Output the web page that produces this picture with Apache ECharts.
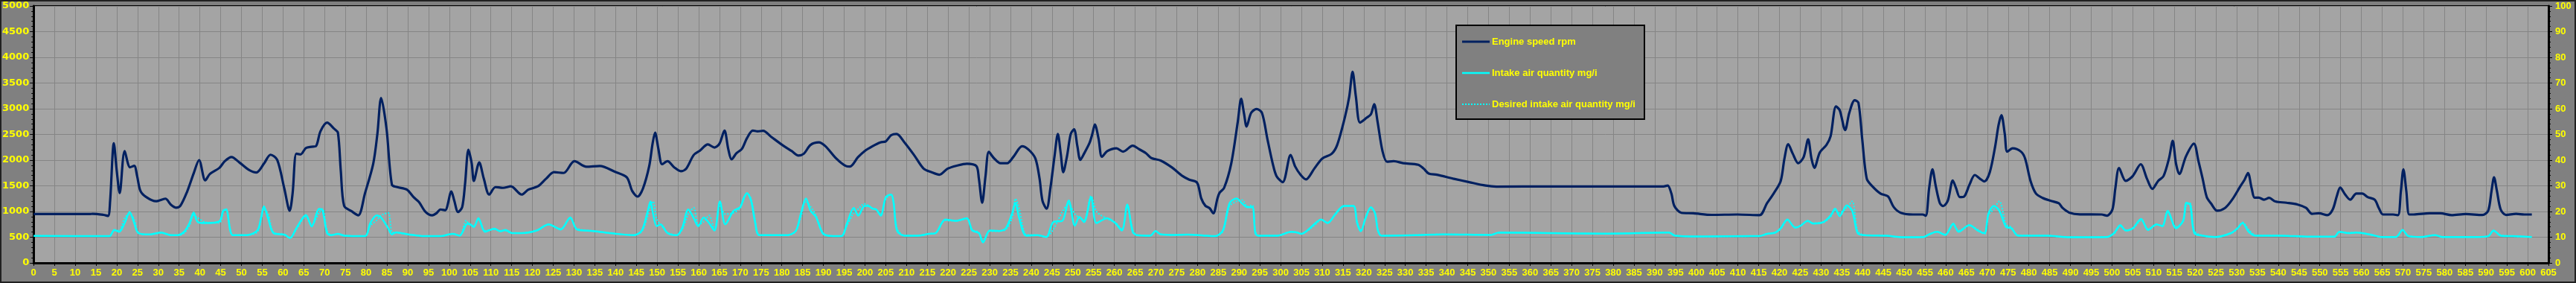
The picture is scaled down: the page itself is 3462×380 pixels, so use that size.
<!DOCTYPE html>
<html><head><meta charset="utf-8">
<script src="https://cdn.jsdelivr.net/npm/echarts@6/dist/echarts.min.js"></script>
<style>html,body{margin:0;padding:0;background:#808080;}#c{width:3462px;height:380px;}</style>
</head><body><div id="c"></div>
<script>
const seriesNames = ['Engine speed rpm', 'Intake air quantity mg/i', 'Desired intake air quantity mg/i'];

const speedT = [0,13.5,14.2,16.8,17.9,18.4,19.3,20.0,20.7,21.9,23.2,24.2,24.9,25.7,27.1,29.4,31.7,33.0,34.3,35.3,36.9,38.5,39.8,41.3,42.4,44.7,46.0,47.6,49.5,51.8,53.6,55.4,57.0,58.6,60.3,61.6,62.3,63.2,64.2,65.5,66.8,67.9,69.0,70.6,72.3,73.2,73.9,74.7,76.5,78.1,79.7,81.7,82.7,83.6,84.9,86.2,87.5,89.8,91.4,92.7,94.3,95.9,96.9,97.9,99.0,100.5,101.2,102.1,103.1,103.8,104.6,105.4,105.9,107.2,108.3,109.6,111.1,112.9,114.8,117.4,119.0,121.3,123.3,125.2,127.5,130.1,133.0,136.2,139.8,142.7,144.0,145.3,146.6,148.1,148.9,149.5,150.3,151.2,152.5,154.1,155.7,157.0,158.8,160.3,162.2,163.8,165.0,166.2,167.1,167.9,169.1,170.4,171.6,173.0,174.2,175.5,177.5,180.1,182.4,184.0,185.3,186.9,188.9,190.5,193.1,195.4,196.4,198.3,199.9,201.8,203.7,205.0,206.3,207.6,209.5,211.8,214.1,216.0,217.9,219.9,222.2,224.5,226.8,227.4,228.2,229.0,229.8,231.0,232.6,234.2,235.8,237.8,239.4,241.0,242.0,242.7,243.7,244.6,245.6,246.4,247.1,247.7,248.6,249.5,250.3,251.1,251.8,252.7,254.0,254.7,255.3,256.2,257.0,258.3,260.5,262.1,264.4,266.0,267.6,268.9,271.2,273.8,276.4,278.0,279.9,280.9,281.9,282.9,283.8,284.8,285.3,286.4,288.1,289.7,290.5,291.2,291.8,292.9,294.2,295.5,296.8,298.1,299.0,300.5,302.4,303.5,304.8,306.1,308.1,310.0,312.3,313.6,315.5,316.5,317.3,318.1,319.1,320.7,321.7,322.5,323.3,324.5,325.6,327.2,329.5,333.1,334.4,335.6,337.6,341.5,345.4,349.3,351.9,365,378,392.1,393.1,394.0,394.7,396.4,399.3,403.7,409.9,415.2,417.0,418.6,420.3,421.2,422.1,423.2,424.5,425.8,426.9,427.7,428.4,429.7,431.3,432.3,433.6,434.5,435.8,436.8,438.1,439.0,439.9,441.0,442.3,444.3,446.1,447.5,449.2,452.1,454.4,455.2,456.0,456.8,457.6,458.6,459.4,460.5,461.7,462.5,463.4,464.4,465.7,467.0,468.2,469.3,470.6,471.9,472.7,473.4,474.2,474.8,476.1,478.1,479.1,480.4,481.7,483.3,485.2,487.2,488.1,489.7,492.3,497.5,498.8,500.1,500.8,501.7,503.3,505.0,506.9,508.4,509.7,511.1,512.4,513.7,514.6,515.4,516.2,517.8,519.7,520.8,521.8,522.8,523.8,525.3,527.2,528.9,530.9,531.9,532.7,533.6,534.3,535.3,536.6,537.8,539.3,542.0,544.7,546.7,548.1,549.8,551.8,553.1,554.1,554.9,556.1,557.3,558.8,560.2,561.5,563.2,564.2,565.2,567.6,568.8,569.5,570.1,570.8,571.5,572.6,576.4,579.0,581.7,585.1,589.1,590.5,591.3,591.9,592.6,593.5,594.8,597.2,599.2,601.0];
const speedRpm = [950,950,955,935,915,1200,2330,1790,1360,2175,1860,1890,1690,1400,1280,1200,1250,1135,1075,1110,1380,1740,2000,1605,1730,1850,1980,2060,1955,1810,1760,1930,2105,2005,1450,1015,1350,2125,2110,2235,2260,2270,2560,2730,2610,2535,1790,1110,1005,925,1350,1930,2510,3210,2610,1520,1475,1425,1280,1185,990,925,965,1040,1025,1390,1210,990,1085,1545,2200,1930,1595,1955,1640,1330,1475,1460,1490,1330,1425,1490,1640,1765,1750,1980,1870,1885,1775,1665,1400,1290,1450,1885,2320,2535,2220,1920,1980,1860,1785,1835,2100,2185,2305,2245,2320,2575,2220,2015,2135,2220,2425,2575,2560,2570,2450,2295,2175,2090,2125,2295,2345,2270,2030,1885,1875,2055,2175,2270,2345,2365,2485,2510,2345,2100,1835,1765,1715,1835,1895,1930,1885,1640,1170,1690,2160,2040,1940,1940,2075,2270,2200,2030,1640,1210,1055,1450,2075,2510,2125,1765,2075,2510,2600,2270,2005,2125,2330,2510,2695,2415,2065,2175,2230,2165,2280,2210,2135,2040,1990,1860,1690,1620,1560,1255,1110,1065,965,1255,1365,1460,1930,2755,3195,2900,2655,2920,2995,2920,2415,1930,1690,1570,2100,1875,1715,1625,1835,2030,2125,2295,2850,3235,3720,3235,2730,2825,2890,3090,2755,2175,1970,1980,1940,1910,1835,1740,1715,1640,1570,1505,1485,1488,1488,1488,1505,1350,1110,975,965,935,942,928,1160,1350,1595,2030,2310,2125,1940,2055,2405,2030,1850,2150,2295,2465,3045,2970,2585,2920,3165,3115,2415,1640,1495,1350,1295,1085,975,942,942,918,1450,1820,1495,1160,1105,1210,1605,1450,1280,1290,1520,1710,1640,1585,1765,2270,2680,2875,2510,2165,2230,2165,2030,1595,1350,1265,1210,1160,1070,980,945,942,918,1040,1450,1845,1595,1690,1920,1640,1440,1595,1690,2030,2375,1930,1730,2075,2320,1980,1640,1280,1160,1015,1070,1230,1495,1620,1750,1450,1270,1270,1230,1265,1195,1170,1135,1070,955,965,930,1040,1305,1465,1330,1230,1350,1350,1280,1230,1065,942,942,928,1400,1820,1400,942,942,965,965,930,950,932,1015,1400,1665,1400,1040,932,955,942,942];

const airT = [0,17.8,18.4,19.4,20.6,21.9,23.1,24.2,25.2,27.8,30.7,33.0,34.6,36.2,37.5,38.5,39.5,41.4,44.7,45.6,46.3,47.3,47.9,51.2,53.8,54.7,55.4,56.4,57.7,60.3,61.7,63.2,65.5,66.9,68.7,69.5,70.6,71.6,73.2,74.8,79.7,81.0,82.5,83.6,85.3,86.2,87.2,90.1,94.0,97.9,99.9,100.8,102.5,104.1,104.7,105.9,107.0,108.6,110.9,112.2,113.5,115.1,117.4,121.0,123.9,126.8,129.1,130.7,134.6,139.8,144.4,146.3,147.6,148.4,149.0,149.9,150.8,152.5,154.7,156.0,157.5,158.8,159.9,161.2,162.5,163.8,165.1,166.4,168.4,170.0,170.8,171.6,172.6,173.6,174.6,181.4,183.4,184.6,185.8,186.9,188.2,189.8,191.1,194.3,195.7,197.3,198.4,199.9,200.8,201.8,202.7,203.8,205.0,206.3,206.9,207.7,209.5,212.8,215.4,217.0,219.3,221.9,224.5,225.8,227.4,228.4,230.0,232.3,233.9,235.4,236.2,237.1,238.8,241.4,243.6,245.3,247.5,249.0,250.5,251.6,252.7,254.4,255.7,258.2,260.2,261.8,263.1,264.4,265.4,268.6,269.9,271.2,274.5,277.7,281.6,284.2,286.1,287.7,289.4,290.7,292.0,293.2,293.9,294.6,299.2,302.5,303.8,305.0,306.4,308.4,309.7,311.3,313.2,315.2,317.5,318.4,319.3,320.4,321.7,322.7,323.4,324.3,332.4,338.9,350.6,352.5,364.9,377.9,393.4,394.9,401.8,413.1,415.1,417.0,419.0,420.3,421.9,423.8,425.1,426.8,428.1,430.6,432.3,433.4,434.5,436.2,437.5,438.8,440.4,445.6,449.8,454.7,456.0,457.9,459.9,461.8,463.1,465.7,467.7,469.3,470.3,471.6,472.9,474.5,475.8,477.4,484.5,489.7,498.8,500.5,502.0,503.3,505.0,507.0,508.7,510.7,512.1,513.4,515.4,517.1,517.9,518.8,519.8,521.8,524.9,528.6,530.2,531.4,532.9,534.6,540.7,547.4,553.5,554.7,556.8,558.8,562.2,564.9,568.3,569.9,571.3,574.3,577.7,579.4,587.8,590.5,591.8,593.5,596.5,601.0];
const airMg = [10.5,10.4,10.5,12.8,12.1,15.5,19.8,15.5,11.6,11.1,11.8,10.8,10.8,12.1,15.5,19.6,15.9,15.5,16.2,20.3,20.8,12.6,10.8,10.8,12.6,17.4,22.0,17.4,11.6,11.0,9.7,13.5,18.6,14.2,21.0,20.5,11.6,10.8,11.3,10.6,10.4,15.5,18.5,17.6,13.5,11.1,11.9,11.1,10.4,10.4,11.1,11.3,10.6,15.0,15.3,14.0,17.4,12.1,13.3,12.3,12.8,11.6,11.6,12.6,15.0,13.0,17.7,13.0,12.4,11.4,10.8,12.6,19.3,23.9,19.3,14.3,15.0,11.6,10.8,13.5,20.8,17.4,14.3,17.7,15.5,12.6,23.9,15.0,20.3,21.7,25.1,27.2,24.2,15.5,10.8,10.8,12.6,19.3,25.1,20.3,17.9,11.6,10.6,10.4,15.5,21.4,18.4,22.2,22.2,21.1,20.8,18.4,25.6,26.6,23.2,12.6,10.6,10.6,11.3,11.6,16.9,16.4,17.4,12.6,11.6,8.0,12.6,12.4,13.5,19.3,23.4,17.4,10.6,10.8,10.1,15.9,16.4,24.3,14.5,17.9,15.9,25.6,15.5,17.4,15.5,12.6,22.7,12.1,10.8,10.6,12.4,11.1,10.9,11.0,10.6,10.4,12.6,23.2,25.1,23.2,21.7,21.7,11.6,10.6,10.6,12.1,11.9,11.3,12.6,15.5,16.9,15.5,19.1,22.2,22.2,15.5,12.3,17.4,21.7,19.3,12.6,10.6,10.8,11.1,10.9,11.8,11.6,11.4,11.8,10.6,10.3,10.4,10.4,11.3,11.8,13.5,16.9,13.7,14.5,16.4,15.3,15.9,18.4,21.1,18.2,22.4,20.3,11.6,10.8,10.6,10.0,10.1,11.1,12.1,10.9,15.3,12.1,14.7,12.6,11.6,19.3,22.2,20.3,14.0,13.5,10.6,10.6,10.0,10.1,11.6,14.7,12.6,13.5,17.1,12.8,15.0,14.3,20.3,13.5,16.4,23.4,22.7,11.6,10.6,10.1,11.6,13.5,15.5,12.1,10.6,10.6,10.2,10.2,12.1,11.6,11.8,11.0,10.1,10.1,12.8,10.4,10.1,10.8,10.1,10.1,10.4,12.6,10.6,10.4,10.1];
const desiredMg = [10.5,10.4,10.5,12.6,12.6,17.5,19.0,17.0,11.8,11.0,11.6,10.8,10.7,11.6,14.5,18.5,17.5,15.8,15.6,19.6,21.0,13.5,10.8,10.8,12.0,16.5,21.0,19.0,12.0,11.0,9.8,13.0,18.0,14.8,19.5,21.0,12.5,10.8,11.2,10.6,10.4,14.5,16.5,18.5,19.5,12.0,11.8,11.1,10.4,10.4,11.0,11.3,10.6,16.5,15.0,14.4,17.0,12.6,13.0,12.5,12.5,11.6,11.6,12.5,14.8,13.3,17.3,13.4,12.4,11.4,10.8,12.2,17.5,22.5,24.0,17.0,15.0,11.8,10.8,12.8,19.0,21.5,14.8,16.0,18.5,13.0,22.5,19.0,19.5,21.5,24.5,27.0,25.0,16.5,10.8,10.8,12.4,18.0,24.0,22.0,18.5,12.0,10.6,10.4,14.5,19.5,21.0,23.0,22.4,21.3,20.8,18.8,24.8,26.6,24.0,13.5,10.6,10.6,11.3,11.6,16.5,16.4,17.2,13.0,11.8,8.5,12.3,12.4,13.0,17.5,25.0,21.0,11.0,10.8,10.1,13.0,20.0,23.0,19.0,17.5,16.5,26.0,20.0,17.2,15.8,13.0,22.0,13.0,10.8,10.6,12.3,11.1,10.9,11.0,10.6,10.4,12.2,22.0,24.0,24.5,22.0,22.5,12.5,10.6,10.6,12.0,11.9,11.3,12.4,15.0,16.8,15.8,18.8,22.0,22.2,16.0,12.6,17.0,21.5,19.5,13.0,10.6,10.8,11.1,10.9,11.8,11.6,11.4,11.8,10.6,10.3,10.4,10.4,11.3,11.8,13.2,16.5,14.0,14.5,16.2,15.5,15.8,18.0,20.5,19.5,21.5,24.0,12.5,10.8,10.6,10.0,10.1,11.0,12.2,11.0,14.8,12.6,14.5,13.0,11.2,18.5,21.0,24.0,15.0,13.8,10.8,10.6,10.0,10.1,11.4,14.2,12.8,13.3,16.5,13.2,14.8,14.5,19.5,14.0,16.0,22.5,23.2,12.5,10.6,10.1,11.4,13.3,15.8,13.0,10.7,10.6,10.2,10.2,12.0,11.7,11.8,11.0,10.1,10.1,12.6,10.6,10.1,10.8,10.1,10.1,10.4,12.4,10.8,10.4,10.1];

const xMin = 0, xMax = 605, xStep = 5;
const leftMin = 0, leftMax = 5000, leftStep = 500;
const rightMin = 0, rightMax = 100, rightStep = 10;

function pairs(t, v) { return t.map((x, i) => [x, v[i]]); }

const chart = echarts.init(document.getElementById('c'), null, {renderer: 'canvas'});
const yellow = '#FFFF00';
const fontFam = 'Liberation Sans, Arial, sans-serif';
const labelFont = {color: yellow, fontWeight: 'bold', fontSize: 13, fontFamily: fontFam};
const colors = ['#002060', '#00FFFF', '#00FFFF'];

// legend box (drawn as graphic)
const LX = 1957, LY = 34, LW = 253, LH = 126, rowY = [56, 98, 140];
const legendGraphics = [{
  type: 'rect', shape: {x: 1, y: 1, width: 3460, height: 378},
  style: {fill: null, stroke: '#202020', lineWidth: 2}, z: 99, silent: true
}, {
  type: 'rect', shape: {x: LX, y: LY, width: LW, height: LH},
  style: {fill: '#808080', stroke: '#000', lineWidth: 2}, z: 100
}];
seriesNames.forEach((n, i) => {
  legendGraphics.push({
    type: 'line', shape: {x1: LX + 8, y1: rowY[i], x2: LX + 45, y2: rowY[i]},
    style: {stroke: colors[i], lineWidth: i === 0 ? 3 : (i === 1 ? 2.5 : 2), lineDash: i === 2 ? [2, 2] : null}, z: 101
  });
  legendGraphics.push({
    type: 'text', x: LX + 48, y: rowY[i],
    style: {text: n, fill: yellow, font: 'bold 13px ' + fontFam, textVerticalAlign: 'middle', verticalAlign: 'middle'}, z: 101
  });
});

chart.setOption({
  backgroundColor: '#808080',
  animation: false,
  grid: {left: 44, right: 37, top: 8, bottom: 27, show: true, backgroundColor: '#A4A4A4', borderColor: '#000', borderWidth: 2, containLabel: false},
  graphic: legendGraphics,
  xAxis: {
    type: 'value', min: xMin, max: xMax, interval: xStep,
    axisLine: {show: true, onZero: false, lineStyle: {color: '#000', width: 3}},
    axisTick: {show: true, length: 4, lineStyle: {color: '#000', width: 1}},
    axisLabel: Object.assign({margin: 7, showMinLabel: true, showMaxLabel: true, formatter: v => String(v)}, labelFont),
    splitLine: {show: true, lineStyle: {color: '#858585', width: 1}}
  },
  yAxis: [{
    type: 'value', min: leftMin, max: leftMax, interval: leftStep, position: 'left',
    axisLine: {show: true, lineStyle: {color: '#000', width: 3}},
    axisTick: {show: true, length: 5, lineStyle: {color: '#000', width: 1}},
    minorTick: {show: true, splitNumber: 5, length: 3, lineStyle: {color: '#000', width: 1}},
    axisLabel: Object.assign({margin: 6, formatter: v => String(v)}, labelFont, {fontFamily: 'DejaVu Sans, sans-serif'}),
    splitLine: {show: true, lineStyle: {color: '#858585', width: 1}}
  }, {
    type: 'value', min: rightMin, max: rightMax, interval: rightStep, position: 'right',
    axisLine: {show: true, lineStyle: {color: '#000', width: 3}},
    axisTick: {show: true, length: 5, lineStyle: {color: '#000', width: 1}},
    minorTick: {show: true, splitNumber: 5, length: 3, lineStyle: {color: '#000', width: 1}},
    axisLabel: Object.assign({margin: 9, formatter: v => String(v)}, labelFont),
    splitLine: {show: false}
  }],
  series: [{
    name: seriesNames[0], type: 'line', yAxisIndex: 0, symbol: 'none', smooth: 0.3,
    data: pairs(speedT, speedRpm), lineStyle: {color: colors[0], width: 3.2}, itemStyle: {color: colors[0]}, z: 3
  }, {
    name: seriesNames[1], type: 'line', yAxisIndex: 1, symbol: 'none', smooth: 0.3,
    data: pairs(airT, airMg), lineStyle: {color: colors[1], width: 2.5}, itemStyle: {color: colors[1]}, z: 2
  }, {
    name: seriesNames[2], type: 'line', yAxisIndex: 1, symbol: 'none', smooth: 0.3,
    data: pairs(airT, desiredMg), lineStyle: {color: colors[2], width: 2, type: [2, 2]}, itemStyle: {color: colors[2]}, z: 2
  }]
});
</script></body></html>
